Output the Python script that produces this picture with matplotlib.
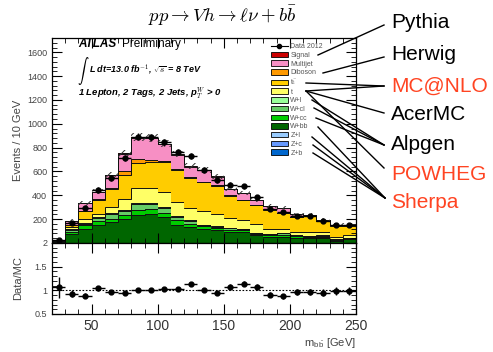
import numpy as np
import matplotlib
matplotlib.use("Agg")
import matplotlib.pyplot as plt
from matplotlib.ticker import MultipleLocator, FixedLocator
from matplotlib.lines import Line2D
from matplotlib.patches import Patch

plt.rcParams['font.family'] = ['Liberation Sans', 'DejaVu Sans']
plt.rcParams['mathtext.fontset'] = 'cm'
plt.rcParams['hatch.linewidth'] = 0.7

# bin edges of m_bb (10 GeV bins)
edges = np.arange(20, 260, 10)
centers = edges[:-1] + 5

# observed data per bin
data = [25, 171, 297, 445, 544, 712, 893, 887, 846, 762, 731, 616,
        529, 490, 475, 383, 283, 258, 229, 227, 185, 151, 151]
# data / MC
ratio = [1.06, 0.93, 0.89, 1.04, 0.96, 0.95, 1.01, 1.01, 1.02, 1.03, 1.14, 1.01,
         0.95, 1.08, 1.14, 1.07, 0.91, 0.87, 0.96, 0.96, 0.95, 0.98, 0.98]

# backgrounds, bottom to top of the stack
zb = [0, 1, 1, 1, 1, 1, 1, 1, 1, 1, 1, 1, 1, 1, 1, 1, 1, 0, 0, 0, 0, 0, 0]
zc = [0, 1, 1, 1, 1, 1, 1, 1, 1, 1, 1, 1, 1, 1, 1, 0, 0, 0, 0, 0, 0, 0, 0]
zl = [0, 1, 1, 1, 1, 1, 1, 1, 1, 1, 1, 1, 1, 1, 0, 0, 0, 0, 0, 0, 0, 0, 0]
wbb = [10, 73, 115, 152, 175, 197, 232, 242, 212, 147, 134, 117, 102, 92, 86, 66, 52, 53, 39, 38, 40, 20, 30]
wcc = [3, 20, 32, 28, 27, 35, 42, 40, 40, 40, 23, 20, 20, 17, 17, 8, 12, 17, 16, 14, 14, 8, 10]
wcl = [2, 17, 13, 27, 35, 30, 48, 45, 37, 31, 25, 11, 12, 11, 10, 6, 8, 10, 12, 8, 8, 5, 5]
wl = [1, 6, 7, 6, 8, 10, 8, 8, 6, 5, 5, 4, 3, 3, 3, 3, 2, 2, 1, 2, 1, 2, 1]
stop = [2, 17, 29, 24, 54, 92, 126, 124, 133, 121, 101, 110, 105, 80, 75, 72, 40, 36, 28, 28, 25, 18, 21]
ttbar = [3, 15, 66, 122, 148, 203, 211, 221, 252, 266, 254, 245, 235, 192, 165, 160, 165, 134, 123, 133, 93, 93, 79]
diboson = [0, 2, 3, 6, 12, 30, 33, 15, 8, 7, 5, 5, 7, 5, 3, 3, 3, 3, 2, 2, 2, 2, 2]
multijet = [3, 32, 66, 60, 105, 149, 181, 180, 138, 120, 91, 95, 70, 51, 56, 39, 28, 42, 18, 11, 12, 6, 6]
signal = [0, 0, 0, 1, 1, 2, 3, 4, 5, 6, 5, 4, 3, 2, 1, 1, 1, 0, 0, 0, 0, 0, 0]
# MC systematic band half width
unc = [5, 15, 20, 22, 28, 30, 32, 32, 30, 28, 26, 24, 22, 20, 19, 17, 15, 14, 12, 12, 11, 10, 10]

stack = [
    ("Z+b", zb, "#0066cc"),
    ("Z+c", zc, "#6699ff"),
    ("Z+l", zl, "#99ccff"),
    ("W+bb", wbb, "#006600"),
    ("W+cc", wcc, "#00cc00"),
    ("W+cl", wcl, "#66cc66"),
    ("W+l", wl, "#99ff99"),
    ("t", stop, "#ffff66"),
    (r"t$\mathrm{\bar{t}}$", ttbar, "#ffcc00"),
    ("Diboson", diboson, "#ff9900"),
    ("Multijet", multijet, "#f78fc4"),
    ("Signal", signal, "#cc0000"),
]

fig = plt.figure(figsize=(4.93, 3.52), dpi=100)
ax = fig.add_axes([0.1055, 0.3097, 0.6166, 0.5824])
rax = fig.add_axes([0.1055, 0.108, 0.6166, 0.2017], sharex=ax)

bottom = np.zeros(len(data))
for name, vals, col in stack:
    top = bottom + np.array(vals)
    ax.stairs(top, edges, baseline=bottom, fill=True, facecolor=col,
              edgecolor="none")
    ax.stairs(top, edges, color="#111111", lw=0.7)
    bottom = top
total = bottom

# uncertainty hatch
ax.stairs(total + np.array(unc), edges, baseline=total - np.array(unc), fill=True,
          facecolor="none", edgecolor="#333333", hatch="////", lw=0)

data = np.array(data)
ax.errorbar(centers, data, yerr=np.sqrt(data), xerr=5, fmt="o", color="black",
            ms=3.5, lw=1, capsize=0, zorder=5)

ax.set_xlim(20, 250)
ax.set_ylim(0, 1720)
ax.yaxis.set_major_locator(FixedLocator(np.arange(200, 1700, 200)))
ax.yaxis.set_minor_locator(MultipleLocator(40))
ax.xaxis.set_major_locator(MultipleLocator(50))
ax.xaxis.set_minor_locator(MultipleLocator(10))
ax.tick_params(labelbottom=False)

for a in (ax, rax):
    a.tick_params(which="both", direction="in", top=True, right=True,
                  labelsize=6.5, labelcolor="#444444")
    a.tick_params(which="major", length=7, width=0.8)
    a.tick_params(which="minor", length=3.5, width=0.6)
    for s in a.spines.values():
        s.set_linewidth(0.9)

ax.set_ylabel("Events / 10 GeV", fontsize=8, color="#444444", labelpad=3)

# ratio panel
ratio = np.array(ratio)
rax.errorbar(centers, ratio, yerr=ratio / np.sqrt(data), xerr=5, fmt="o",
             color="black", ms=3.5, lw=1, capsize=0)
rax.axhline(1, color="black", ls=(0, (1.5, 1.5)), lw=0.8)
rax.set_ylim(0.5, 2)
rax.yaxis.set_major_locator(FixedLocator([0.5, 1, 1.5, 2]))
rax.yaxis.set_minor_locator(MultipleLocator(0.1))
rax.set_yticklabels(["0.5", "1", "1.5", "2"])
rax.tick_params(axis="x", labelsize=10, labelcolor="#333333")
rax.set_ylabel("Data/MC", fontsize=8, color="#444444", labelpad=8)
rax.set_xlabel(r"m$_{\mathregular{b\bar{b}}}$ [GeV]", fontsize=8,
               color="#444444", loc="right", labelpad=2)

# legend
handles = [Line2D([0], [0], color="black", marker="o", ms=3, lw=0.8)]
labels = ["Data 2012"]
for name, vals, col in reversed(stack):
    handles.append(Patch(facecolor=col, edgecolor="black", lw=0.6))
    labels.append(name)
leg = ax.legend(handles, labels, loc="upper left",
                bbox_to_anchor=(271 / 493, 1 - 43 / 352),
                bbox_transform=fig.transFigure, frameon=False, fontsize=5,
                handlelength=2.4, handleheight=0.85, labelspacing=0.22,
                handletextpad=0.4, borderpad=0, borderaxespad=0)
for t in leg.get_texts():
    t.set_color("#555555")

# ATLAS labels
ax.text(78 / 493, 1 - 44 / 352, "ATLAS", transform=fig.transFigure, fontsize=8.5,
        weight="bold", style="italic", va="center")
ax.text(122 / 493, 1 - 44 / 352, "Preliminary", transform=fig.transFigure,
        fontsize=8.5, va="center")
ax.text(77 / 493, 1 - 71 / 352, r"$\int$", transform=fig.transFigure, fontsize=8,
        va="center")
ax.text(89 / 493, 1 - 70 / 352, r"L dt=13.0 fb$^{-1}$, $\sqrt{s}$ = 8 TeV",
        transform=fig.transFigure, fontsize=6.5, weight="bold", style="italic",
        va="center")
ax.text(78 / 493, 1 - 93 / 352, r"1 Lepton, 2 Tags, 2 Jets, p$_T^W$ > 0",
        transform=fig.transFigure, fontsize=6.8, weight="bold", style="italic",
        va="center")

fig.text(222 / 493, 1 - 15 / 352, r"$pp \rightarrow Vh \rightarrow \ell\nu + b\bar{b}$",
         fontsize=13.5, ha="center", va="center")

# generator annotations
red = "#ff4422"
gens = [("Pythia", 23, "black"), ("Herwig", 55, "black"), ("MC@NLO", 86, red),
        ("AcerMC", 114, "black"), ("Alpgen", 145, "black"), ("POWHEG", 174, red),
        ("Sherpa", 203, red)]
for name, y, col in gens:
    fig.text(391 / 493, 1 - y / 352, name, fontsize=15, color=col, va="center")

links = [
    ((318, 55), (384, 25)),
    ((323, 73), (384, 57)),
    ((306, 83), (384, 86)), ((306, 91), (384, 86)),
    ((306, 91), (384, 113)),
    ((312, 100), (384, 145)), ((314, 108), (384, 145)), ((316, 118), (384, 145)),
    ((306, 91), (384, 168)),
    ((318, 127), (385, 198)), ((312, 137), (385, 198)), ((313, 145), (385, 198)),
    ((313, 153), (385, 198)),
]
for (x0, y0), (x1, y1) in links:
    fig.add_artist(Line2D([x0 / 493, x1 / 493], [1 - y0 / 352, 1 - y1 / 352],
                          transform=fig.transFigure, color="black", lw=1))

fig.savefig("out.png", dpi=100)
